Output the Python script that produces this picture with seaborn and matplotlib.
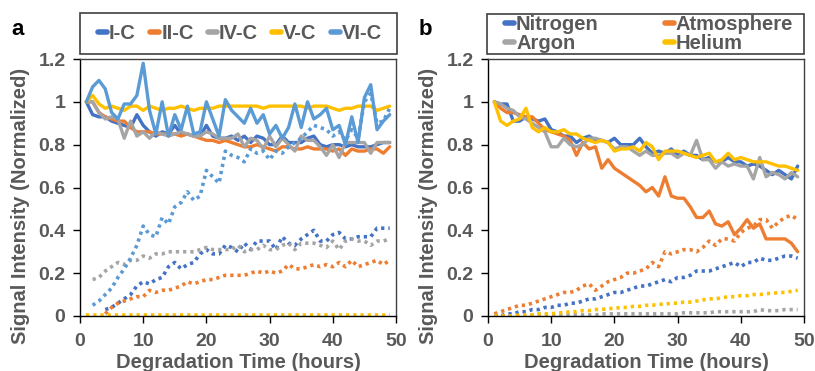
import numpy as np
import pandas as pd
import matplotlib
matplotlib.use("Agg")
import matplotlib.pyplot as plt
from matplotlib.patches import Rectangle
import seaborn as sns

hours = list(range(1, 50))

# ---- panel a: solid = signal, dotted = second trace
a_names = ["I-C", "II-C", "IV-C", "V-C", "VI-C"]
a_colors = ["#4472C4", "#ED7D31", "#A5A5A5", "#FFC000", "#5B9BD5"]

ic_solid = [1.0, 0.94, 0.93, 0.93, 0.91, 0.90, 0.89, 0.88, 0.94, 0.89, 0.86, 0.84, 0.86, 0.85, 0.89, 0.85,
            0.85, 0.84, 0.84, 0.89, 0.84, 0.83, 0.83, 0.84, 0.82, 0.84, 0.81, 0.84, 0.83, 0.80, 0.80, 0.84,
            0.81, 0.81, 0.81, 0.83, 0.84, 0.80, 0.79, 0.80, 0.80, 0.79, 0.80, 0.79, 0.79, 0.79, 0.80, 0.81, 0.81]
iic_solid = [1.0, 1.0, 0.95, 0.93, 0.92, 0.91, 0.91, 0.88, 0.86, 0.86, 0.86, 0.85, 0.85, 0.85, 0.85, 0.84,
             0.85, 0.84, 0.83, 0.82, 0.82, 0.81, 0.82, 0.81, 0.80, 0.79, 0.79, 0.80, 0.79, 0.78, 0.77, 0.79,
             0.79, 0.78, 0.78, 0.79, 0.78, 0.78, 0.78, 0.77, 0.78, 0.75, 0.78, 0.77, 0.77, 0.78, 0.78, 0.76, 0.79]
ivc_solid = [1.0, 1.0, 0.95, 0.92, 0.93, 0.92, 0.83, 0.91, 0.84, 0.86, 0.83, 0.86, 0.85, 0.84, 0.85, 0.86,
             0.85, 0.84, 0.84, 0.86, 0.85, 0.83, 0.83, 0.83, 0.85, 0.79, 0.83, 0.82, 0.78, 0.84, 0.79, 0.83,
             0.80, 0.77, 0.84, 0.82, 0.82, 0.79, 0.75, 0.80, 0.74, 0.81, 0.81, 0.81, 0.81, 0.76, 0.81, 0.81, 0.81]
vc_solid = [1.0, 1.03, 0.99, 0.97, 0.98, 0.97, 0.96, 0.98, 0.98, 0.96, 0.98, 0.97, 0.96, 0.97, 0.97, 0.98,
            0.97, 0.96, 0.97, 0.97, 0.97, 0.98, 0.98, 0.98, 0.98, 0.98, 0.98, 0.98, 0.97, 0.98, 0.98, 0.98,
            0.98, 0.98, 0.98, 0.97, 0.98, 0.98, 0.98, 0.97, 0.96, 0.97, 0.97, 0.98, 0.98, 0.98, 0.96, 0.97, 0.98]
vic_solid = [1.0, 1.07, 1.10, 1.06, 0.95, 0.92, 0.99, 0.99, 1.03, 1.18, 0.96, 0.85, 1.0, 0.84, 0.94, 0.87,
             0.98, 0.85, 0.86, 1.0, 0.92, 0.84, 1.01, 0.96, 0.93, 0.90, 0.97, 0.90, 0.94, 0.85, 0.89, 0.83,
             0.88, 0.99, 0.88, 1.0, 0.92, 0.94, 0.97, 0.87, 0.89, 0.80, 0.93, 0.81, 1.02, 1.08, 0.87, 0.91, 0.94]

ic_dot = [np.nan, np.nan, np.nan, 0.03, 0.04, 0.06, 0.08, 0.10, 0.14, 0.16, 0.15, 0.17, 0.18, 0.23, 0.25, 0.22,
          0.24, 0.25, 0.29, 0.31, 0.29, 0.29, 0.33, 0.32, 0.30, 0.34, 0.31, 0.35, 0.35, 0.35, 0.31, 0.37,
          0.34, 0.33, 0.36, 0.38, 0.40, 0.35, 0.35, 0.38, 0.39, 0.36, 0.36, 0.37, 0.37, 0.37, 0.41, 0.41, 0.41]
iic_dot = [np.nan, np.nan, np.nan, 0.01, 0.04, 0.06, 0.07, 0.08, 0.09, 0.09, 0.12, 0.11, 0.12, 0.12, 0.13, 0.14,
           0.16, 0.15, 0.16, 0.17, 0.17, 0.18, 0.19, 0.19, 0.19, 0.19, 0.20, 0.21, 0.20, 0.21, 0.20, 0.21,
           0.24, 0.22, 0.22, 0.23, 0.24, 0.23, 0.24, 0.23, 0.25, 0.23, 0.26, 0.23, 0.24, 0.25, 0.26, 0.24, 0.26]
ivc_dot = [np.nan, 0.17, 0.18, 0.21, 0.23, 0.25, 0.24, 0.26, 0.26, 0.28, 0.27, 0.29, 0.29, 0.30, 0.30, 0.30,
           0.30, 0.30, 0.31, 0.32, 0.31, 0.31, 0.31, 0.31, 0.33, 0.30, 0.31, 0.31, 0.33, 0.31, 0.31, 0.33,
           0.34, 0.31, 0.34, 0.34, 0.34, 0.33, 0.32, 0.35, 0.31, 0.35, 0.36, 0.35, 0.35, 0.33, 0.35, 0.35, 0.36]
vc_dot = [0.005] * 49
vic_dot = [np.nan, 0.05, 0.07, 0.10, 0.13, 0.18, 0.22, 0.27, 0.33, 0.42, 0.38, 0.37, 0.46, 0.43, 0.51, 0.53,
           0.58, 0.54, 0.56, 0.68, 0.65, 0.62, 0.77, 0.75, 0.74, 0.72, 0.78, 0.76, 0.77, 0.73, 0.77, 0.76,
           0.79, 0.81, 0.83, 0.86, 0.89, 0.88, 0.87, 0.84, 0.86, 0.82, 0.87, 0.83, 1.00, 1.04, 0.90, 0.91, 0.97]

a_solid = [ic_solid, iic_solid, ivc_solid, vc_solid, vic_solid]
a_dot = [ic_dot, iic_dot, ivc_dot, vc_dot, vic_dot]

# ---- panel b
b_names = ["Nitrogen", "Atmosphere", "Argon", "Helium"]
b_colors = ["#4472C4", "#ED7D31", "#A5A5A5", "#FFC000"]

n2_solid = [1.0, 0.99, 0.99, 0.91, 0.91, 0.93, 0.92, 0.91, 0.92, 0.87, 0.86, 0.84, 0.84, 0.81, 0.83, 0.84,
            0.82, 0.82, 0.81, 0.83, 0.80, 0.80, 0.80, 0.83, 0.79, 0.76, 0.77, 0.76, 0.78, 0.75, 0.77, 0.75,
            0.75, 0.73, 0.74, 0.72, 0.72, 0.74, 0.72, 0.72, 0.70, 0.71, 0.70, 0.68, 0.66, 0.68, 0.66, 0.64, 0.70]
atm_solid = [1.0, 0.97, 0.95, 0.95, 0.94, 0.93, 0.93, 0.90, 0.87, 0.86, 0.85, 0.84, 0.82, 0.75, 0.81, 0.78,
             0.79, 0.69, 0.73, 0.69, 0.67, 0.65, 0.63, 0.61, 0.58, 0.60, 0.56, 0.65, 0.56, 0.55, 0.55, 0.51,
             0.46, 0.46, 0.49, 0.43, 0.42, 0.44, 0.38, 0.41, 0.45, 0.41, 0.43, 0.36, 0.36, 0.36, 0.36, 0.34, 0.30]
ar_solid = [1.0, 0.99, 0.97, 0.96, 0.93, 0.92, 0.90, 0.88, 0.86, 0.79, 0.79, 0.83, 0.80, 0.79, 0.80, 0.83,
            0.83, 0.82, 0.81, 0.78, 0.79, 0.79, 0.77, 0.75, 0.77, 0.75, 0.75, 0.76, 0.76, 0.74, 0.76, 0.75,
            0.82, 0.73, 0.73, 0.69, 0.72, 0.70, 0.71, 0.70, 0.70, 0.64, 0.74, 0.65, 0.67, 0.66, 0.64, 0.67, 0.65]
he_solid = [1.0, 0.91, 0.89, 0.91, 0.92, 0.97, 0.88, 0.86, 0.88, 0.86, 0.86, 0.87, 0.85, 0.85, 0.83, 0.82,
            0.81, 0.82, 0.81, 0.77, 0.78, 0.78, 0.79, 0.77, 0.81, 0.79, 0.73, 0.77, 0.77, 0.77, 0.76, 0.75,
            0.74, 0.75, 0.76, 0.72, 0.73, 0.76, 0.73, 0.74, 0.73, 0.72, 0.72, 0.72, 0.71, 0.70, 0.70, 0.69, 0.68]

n2_dot = [0.0, 0.0, 0.01, 0.01, 0.02, 0.02, 0.03, 0.03, 0.04, 0.04, 0.05, 0.05, 0.06, 0.06, 0.07, 0.08,
          0.08, 0.09, 0.10, 0.11, 0.11, 0.12, 0.13, 0.14, 0.14, 0.15, 0.16, 0.17, 0.16, 0.18, 0.18, 0.19,
          0.21, 0.21, 0.21, 0.22, 0.23, 0.24, 0.25, 0.23, 0.25, 0.25, 0.27, 0.26, 0.26, 0.27, 0.28, 0.28, 0.27]
atm_dot = [0.01, 0.02, 0.03, 0.04, 0.05, 0.05, 0.06, 0.07, 0.08, 0.09, 0.10, 0.11, 0.11, 0.12, 0.14, 0.15,
           0.12, 0.14, 0.16, 0.17, 0.18, 0.20, 0.20, 0.21, 0.22, 0.25, 0.23, 0.30, 0.29, 0.30, 0.31, 0.31,
           0.30, 0.32, 0.35, 0.33, 0.36, 0.36, 0.35, 0.39, 0.41, 0.42, 0.45, 0.45, 0.41, 0.44, 0.46, 0.47, 0.45]
ar_dot = [0.0, 0.0, 0.0, 0.0, 0.0, 0.0, 0.005, 0.005, 0.005, 0.005, 0.005, 0.005, 0.005, 0.005, 0.005, 0.005,
          0.005, 0.01, 0.01, 0.01, 0.01, 0.01, 0.01, 0.01, 0.01, 0.01, 0.01, 0.01, 0.01, 0.01, 0.015, 0.015,
          0.015, 0.015, 0.015, 0.02, 0.02, 0.02, 0.02, 0.02, 0.02, 0.02, 0.03, 0.025, 0.025, 0.025, 0.03, 0.03, 0.03]
he_dot = [0.0, 0.0, 0.0, 0.0, 0.005, 0.005, 0.005, 0.01, 0.01, 0.01, 0.015, 0.015, 0.02, 0.02, 0.025, 0.025,
          0.03, 0.03, 0.035, 0.035, 0.04, 0.04, 0.045, 0.045, 0.05, 0.05, 0.055, 0.055, 0.06, 0.06, 0.065, 0.065,
          0.07, 0.075, 0.08, 0.08, 0.085, 0.09, 0.09, 0.095, 0.095, 0.10, 0.10, 0.105, 0.105, 0.11, 0.11, 0.115, 0.12]

b_solid = [n2_solid, atm_solid, ar_solid, he_solid]
b_dot = [n2_dot, atm_dot, ar_dot, he_dot]

sns.set_style("ticks")
plt.rcParams["font.family"] = ["Liberation Sans", "DejaVu Sans"]
plt.rcParams["font.weight"] = "bold"
txt = "#595959"
W, H = 815, 371

fig = plt.figure(figsize=(W / 100, H / 100), dpi=100)
ax_a = fig.add_axes([80 / W, 55 / H, 316 / W, 257 / H])
ax_b = fig.add_axes([488 / W, 55 / H, 316 / W, 257 / H])


def px_box(x0, x1, y0, y1):
    # pixel box (from top-left) -> figure fraction (x, y, w, h)
    return (x0 / W, 1 - y1 / H, (x1 - x0) / W, (y1 - y0) / H)


def draw(ax, names, colors, solids, dots, ncol, order, frame_px, leg_px):
    for name, c, s, d in zip(names, colors, solids, dots):
        df = pd.DataFrame({"h": hours, "v": s})
        sns.lineplot(data=df, x="h", y="v", ax=ax, color=c, linewidth=2.4, label=name)
        dd = pd.DataFrame({"h": hours, "v": d}).dropna()
        sns.lineplot(data=dd, x="h", y="v", ax=ax, color=c, linewidth=2.6,
                     linestyle=(0, (0.9, 1.1)), label="_nolegend_")
    ax.set_xlim(0, 50)
    ax.set_ylim(0, 1.2)
    ax.set_xticks([0, 10, 20, 30, 40, 50])
    ax.set_yticks([0, 0.2, 0.4, 0.6, 0.8, 1.0, 1.2])
    ax.set_yticklabels(["0", "0.2", "0.4", "0.6", "0.8", "1", "1.2"])
    ax.tick_params(labelsize=14, labelcolor=txt, color="black", length=5, width=1, direction="out")
    ax.tick_params(axis="x", pad=7.5)
    ax.tick_params(axis="y", pad=5.5)
    for sp in ax.spines.values():
        sp.set_visible(True)
        sp.set_color("#404040")
        sp.set_linewidth(1)
    ax.spines["left"].set_color("black")
    ax.spines["bottom"].set_color("black")
    ax.set_xlabel("Degradation Time (hours)", fontsize=14.5, color=txt, fontweight="bold", labelpad=2)
    ax.set_ylabel("Signal Intensity (Normalized)", fontsize=14.5, color=txt, fontweight="bold")
    ax.yaxis.set_label_coords(-0.157, 0.43)
    handles, labels = ax.get_legend_handles_labels()
    handles = [handles[i] for i in order]
    labels = [labels[i] for i in order]
    leg = ax.legend(handles, labels, loc="center left", bbox_to_anchor=px_box(*leg_px),
                    bbox_transform=fig.transFigure, mode="expand", ncol=ncol, frameon=False,
                    fontsize=14.5, handlelength=0.45, handletextpad=0.1, borderaxespad=0,
                    borderpad=0, labelspacing=0.0)
    for t in leg.get_texts():
        t.set_color(txt)
    for h in leg.get_lines():
        h.set_linewidth(4)
    fig.patches.append(Rectangle(px_box(*frame_px)[:2], *px_box(*frame_px)[2:],
                                 transform=fig.transFigure, fill=False,
                                 edgecolor="#404040", linewidth=1.2))


draw(ax_a, a_names, a_colors, a_solid, a_dot, 5, [0, 1, 2, 3, 4],
     (80, 397, 13, 54), (98, 382, 13, 54))
draw(ax_b, b_names, b_colors, b_solid, b_dot, 2, [0, 2, 1, 3],
     (487, 804, 14, 54), (505, 793, 14, 54))

fig.text(11 / W, 1 - 35 / H, "a", fontsize=16, fontweight="bold", color="black", va="baseline")
fig.text(419 / W, 1 - 35 / H, "b", fontsize=16, fontweight="bold", color="black", va="baseline")

fig.savefig("out.png", dpi=100)
